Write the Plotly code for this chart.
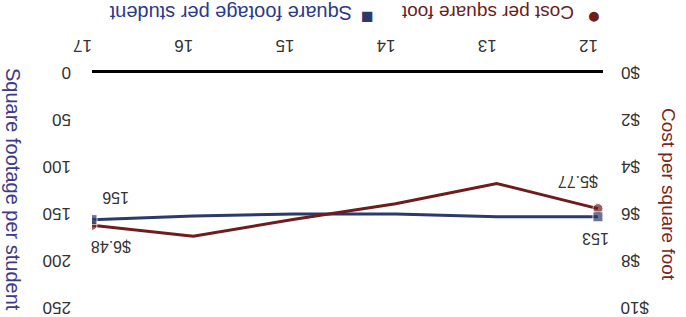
import plotly.graph_objects as go

years = [12, 13, 14, 15, 16, 17]
year_labels = ["12", "13", "14", "15", "16", "17"]
cost_per_sqft = [5.77, 4.70, 5.56, 6.22, 6.95, 6.48]
sqft_per_student = [153, 153, 150, 150, 152, 156]
sqft_ticks = [0, 50, 100, 150, 200, 250]
cost_ticks = [0, 2, 4, 6, 8, 10]
cost_tick_labels = ["$0", "$2", "$4", "$6", "$8", "$10"]

RED = "#6e1c1c"
BLUE = "#2b3a6b"
FONT = "Liberation Sans, Arial, sans-serif"
TICKC = "#333333"

end_sizes = [10 if i in (0, len(years) - 1) else 0 for i in range(len(years))]

fig = go.Figure()
fig.add_trace(go.Scatter(x=years, y=sqft_per_student, mode="lines",
                         line=dict(color=BLUE, width=3), yaxis="y", showlegend=False))
fig.add_trace(go.Scatter(x=years, y=cost_per_sqft, mode="lines+markers",
                         line=dict(color=RED, width=3),
                         marker=dict(symbol="circle", size=end_sizes, color=RED),
                         yaxis="y2", showlegend=False))
fig.add_trace(go.Scatter(x=years, y=sqft_per_student, mode="markers",
                         marker=dict(symbol="square", size=end_sizes, color=BLUE),
                         yaxis="y3", showlegend=False))

W, H = 686, 317
L, T = 92, 73
R = W - 603
B = H - 308
pw, ph = W - L - R, H - T - B

fig.update_layout(
    width=W, height=H,
    margin=dict(l=L, r=R, t=T, b=B, autoexpand=False),
    paper_bgcolor="white", plot_bgcolor="white",
    font=dict(family=FONT, size=17, color=TICKC),
    hovermode=False,
    xaxis=dict(range=[17, 11.95], side="top", tickvals=years, ticktext=year_labels,
               tickangle=180, showgrid=False, zeroline=False, showline=True,
               linecolor="black", linewidth=3, ticks="", ticklabelstandoff=6,
               automargin=False, tickfont=dict(size=17, color=TICKC)),
    yaxis=dict(range=[250, 0], showticklabels=False, showgrid=False,
               zeroline=False, showline=False, ticks="", automargin=False),
    yaxis2=dict(range=[10, 0], overlaying="y", side="right", showticklabels=False,
                showgrid=False, zeroline=False, showline=False, ticks="",
                automargin=False),
    yaxis3=dict(range=[250, 0], overlaying="y", visible=False),
)


def px(x):
    return (x - L) / pw


def py(y):
    return (H - B - y) / ph


ann = []
# y tick labels (upside down)
for v in sqft_ticks:
    ann.append(dict(x=px(73), y=v, xref="paper", yref="y", text=str(v), showarrow=False,
                    textangle=180, xanchor="right", yanchor="middle",
                    font=dict(size=17, color=TICKC)))
for v, t in zip(cost_ticks, cost_tick_labels):
    ann.append(dict(x=px(619), y=v, xref="paper", yref="y2", text=t, showarrow=False,
                    textangle=180, xanchor="left", yanchor="middle",
                    font=dict(size=17, color=TICKC)))

# axis titles
ann.append(dict(x=px(13), y=py(189), xref="paper", yref="paper", text="Square footage per student",
                showarrow=False, textangle=90, xanchor="center", yanchor="middle",
                font=dict(size=20, color="#3d3a8a")))
ann.append(dict(x=px(669), y=py(194), xref="paper", yref="paper", text="Cost per square foot",
                showarrow=False, textangle=90, xanchor="center", yanchor="middle",
                font=dict(size=19, color="#7a2323")))
# legend (upside down)
ann.append(dict(x=px(488), y=py(13), xref="paper", yref="paper", text="Cost per square foot",
                showarrow=False, textangle=180, xanchor="center", yanchor="middle",
                font=dict(size=19, color="#6e1c1c")))
ann.append(dict(x=px(594), y=py(15), xref="paper", yref="paper", text="●",
                showarrow=False, xanchor="center", yanchor="middle",
                font=dict(size=23, color=RED)))
ann.append(dict(x=px(231), y=py(13), xref="paper", yref="paper", text="Square footage per student",
                showarrow=False, textangle=180, xanchor="center", yanchor="middle",
                font=dict(size=20, color="#2b3a8a")))
ann.append(dict(x=px(367), y=py(15), xref="paper", yref="paper", text="■",
                showarrow=False, xanchor="center", yanchor="middle",
                font=dict(size=21, color=BLUE)))

# data labels
ann.append(dict(x=years[0], y=cost_per_sqft[0], xref="x", yref="y2", text="$5.77",
                showarrow=False, textangle=180, xshift=-20, yshift=27,
                xanchor="center", yanchor="middle", font=dict(size=16, color=TICKC)))
ann.append(dict(x=years[0], y=sqft_per_student[0], xref="x", yref="y", text=str(sqft_per_student[0]),
                showarrow=False, textangle=180, xshift=-3, yshift=-21,
                xanchor="center", yanchor="middle", font=dict(size=16, color=TICKC)))
ann.append(dict(x=years[-1], y=sqft_per_student[-1], xref="x", yref="y", text=str(sqft_per_student[-1]),
                showarrow=False, textangle=180, xshift=24, yshift=22,
                xanchor="center", yanchor="middle", font=dict(size=16, color=TICKC)))
ann.append(dict(x=years[-1], y=cost_per_sqft[-1], xref="x", yref="y2", text="$6.48",
                showarrow=False, textangle=180, xshift=19, yshift=-21,
                xanchor="center", yanchor="middle", font=dict(size=16, color=TICKC)))

fig.update_layout(annotations=ann)
fig.write_html("out.html", config={"displayModeBar": False},
               post_script="document.body.style.margin='0';")
